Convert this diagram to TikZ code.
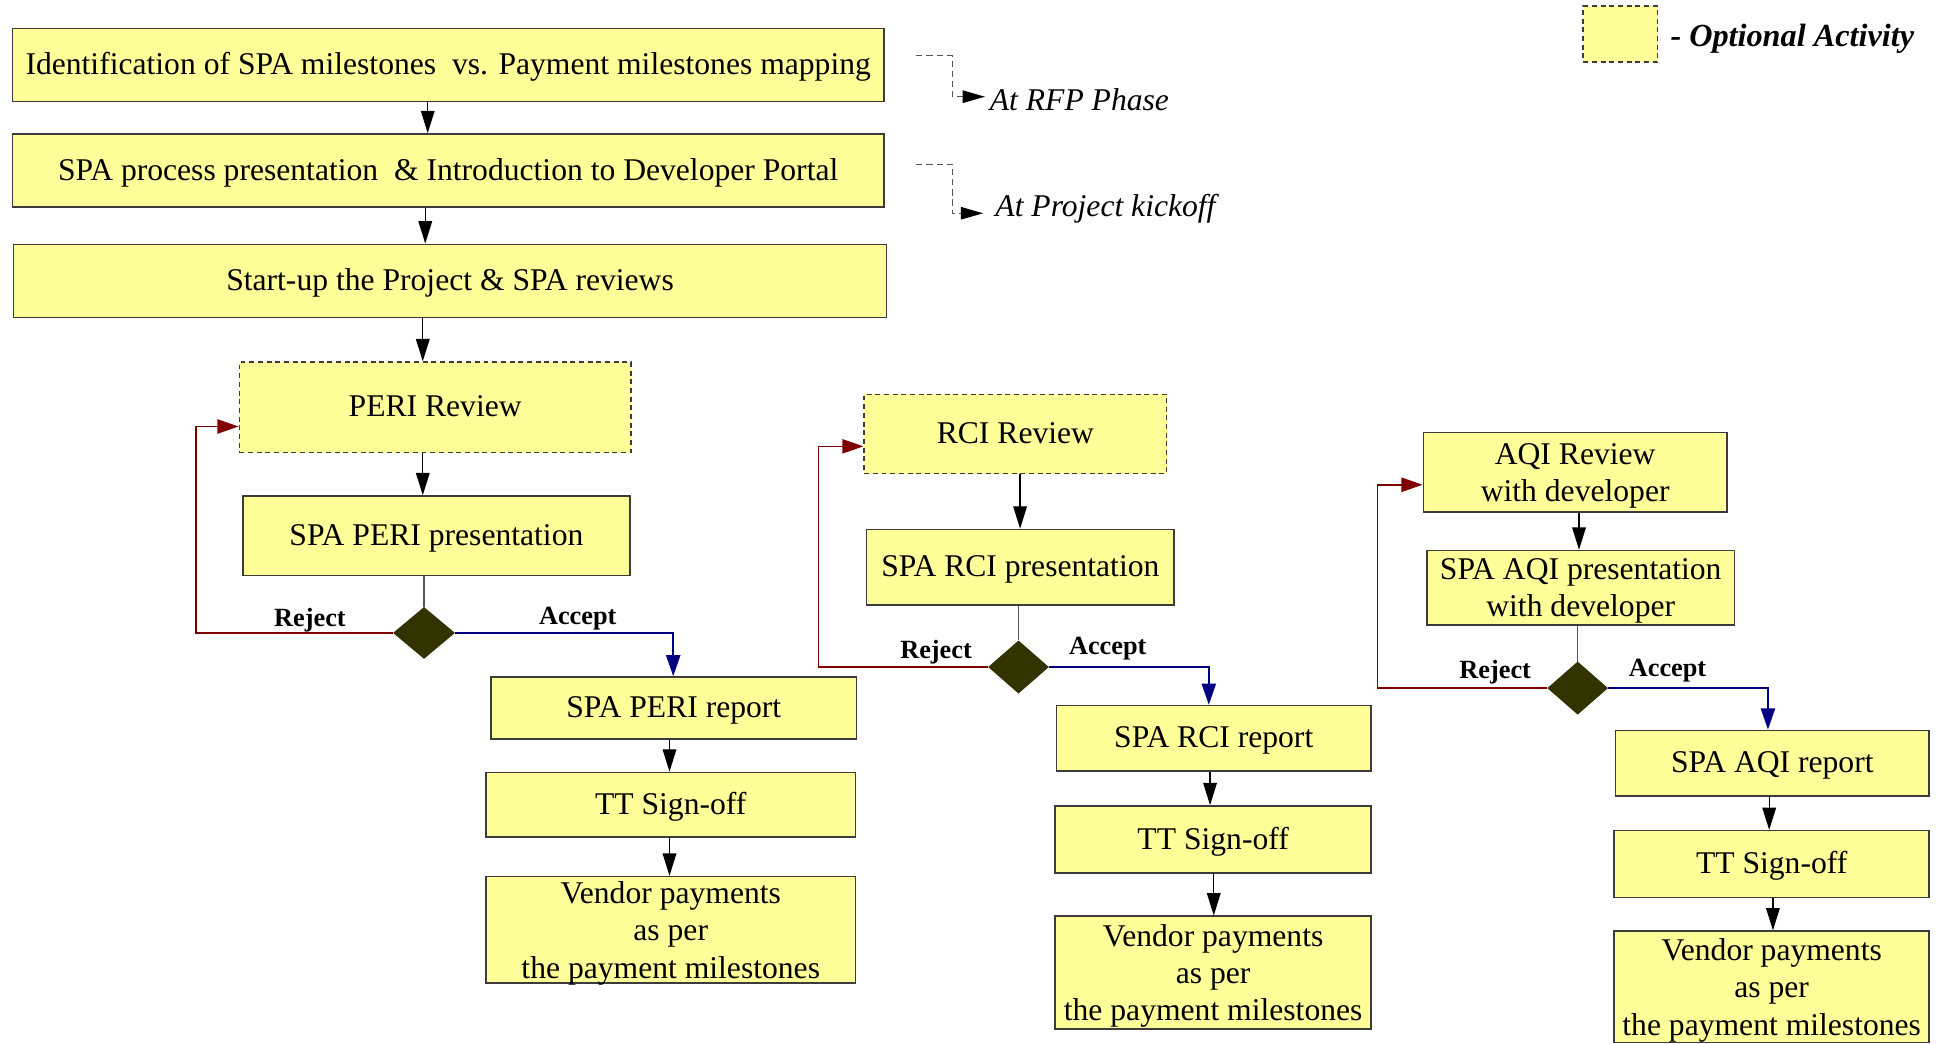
\documentclass[tikz,border=0pt]{standalone}
\usepackage{fontspec}
\setmainfont{Liberation Serif}
\usetikzlibrary{arrows.meta,shapes.geometric}

\definecolor{boxfill}{HTML}{FFFF99}
\definecolor{boxline}{HTML}{3C3C3C}
\definecolor{gatefill}{HTML}{333300}
\definecolor{rejcol}{HTML}{800000}
\definecolor{acccol}{HTML}{000080}
\definecolor{notecol}{HTML}{555555}

\begin{document}
\begin{tikzpicture}[x=0.5pt,y=-0.5pt,
  every node/.style={font=\fontsize{12.75pt}{15pt}\selectfont},
  frame/.style={draw=boxline,line width=0.6pt,fill=boxfill,align=center,inner sep=0pt},
  box/.style={frame,text height=1.0em,text depth=0.22em},
  tallbox/.style={frame,text depth=-0.15em},
  optbox/.style={box,dash pattern=on 2pt off 1.5pt},
  decision/.style={diamond,fill=gatefill,draw=gatefill,inner sep=0pt,
    minimum width=24.5pt,minimum height=20.5pt},
  flow/.style={draw=black,line width=0.5pt,-{Triangle[length=9pt,width=5.5pt]}},
  stem/.style={draw=notecol,line width=0.5pt},
  rejpath/.style={draw=rejcol,line width=0.6pt,-{Triangle[length=8.5pt,width=5.75pt]}},
  accpath/.style={draw=acccol,line width=0.6pt,-{Triangle[length=8.5pt,width=5.75pt]}},
  notepath/.style={draw=notecol,line width=0.5pt,dash pattern=on 2.5pt off 1.6pt,
    -{Triangle[length=9pt,width=5pt,color=black]}},
  verdict/.style={font=\bfseries\fontsize{10.6pt}{12pt}\selectfont,inner sep=0pt},
  notetext/.style={font=\itshape\fontsize{12.75pt}{15pt}\selectfont,anchor=base west},
]
\useasboundingbox (0,0) rectangle (1568,842);

% ---- common start-up chain ----
\node[box,minimum width=351.5pt,minimum height=29.5pt] (b1) at (361.5,52.5)
  {Identification of SPA milestones\ \ vs. Payment milestones mapping};
\node[box,minimum width=351.5pt,minimum height=29.5pt] (b2) at (361.5,137.5)
  {SPA process presentation\ \ \& Introduction to Developer Portal};
\node[box,minimum width=352pt,minimum height=29.5pt] (b3) at (363,226.5)
  {Start-up the Project \& SPA reviews};

% ---- phase notes ----
\coordinate (n1) at (739,45);
\node[notetext,inner sep=1.75pt] (rfp) at (794.5,89) {At RFP Phase};
\draw[notepath] (n1) -| (768,78) -- (rfp.west |- 0,78);
\coordinate (n2) at (739,132.5);
\node[notetext,inner ysep=1.75pt,inner xsep=4.75pt] (kick) at (793,175) {At Project kickoff};
\draw[notepath] (n2) -| (768,172) -- (kick.west |- 0,172);

% ---- legend ----
\node[optbox,minimum width=30pt,minimum height=22.5pt] (legbox) at (1307,27.5) {};
\node[anchor=base west,inner sep=0pt,font=\bfseries\itshape\fontsize{13pt}{15pt}\selectfont]
  (legtext) at (1347,37.6) {- Optional Activity};

% ---- PERI column ----
\node[optbox,minimum width=158pt,minimum height=36.5pt] (peri) at (351,328.5) {PERI Review};
\node[box,minimum width=156pt,minimum height=32pt] (peripres) at (352,432) {SPA PERI presentation};
\node[decision] (d1) at (342,510.5) {};
\node[box,minimum width=147.5pt,minimum height=25pt] (perirep) at (543.5,571) {SPA PERI report};
\node[box,minimum width=149pt,minimum height=26pt] (tt1) at (541,649) {TT Sign-off};
\node[tallbox,minimum width=149pt,minimum height=43pt] (v1) at (541,750)
  {Vendor payments\\as per\\the payment milestones};
\node[verdict] (rj1) at (250,500) {Reject};
\node[verdict] (ac1) at (466,499) {Accept};

% ---- RCI column ----
\node[optbox,minimum width=122pt,minimum height=32pt] (rci) at (819,350) {RCI Review};
\node[box,minimum width=124pt,minimum height=30.5pt] (rcipres) at (823,457.5) {SPA RCI presentation};
\node[decision,minimum width=24pt,minimum height=21pt] (d2) at (821.5,538) {};
\node[box,minimum width=127pt,minimum height=26.5pt] (rcirep) at (979,595.5) {SPA RCI report};
\node[box,minimum width=127.5pt,minimum height=27pt] (tt2) at (978.5,677) {TT Sign-off};
\node[tallbox,minimum width=127.5pt,minimum height=45.5pt] (v2) at (978.5,784.5)
  {Vendor payments\\as per\\the payment milestones};
\node[verdict] (rj2) at (755,526) {Reject};
\node[verdict] (ac2) at (893.5,523) {Accept};

% ---- AQI column ----
\node[tallbox,minimum width=122.5pt,minimum height=32pt] (aqi) at (1270.5,381) {AQI Review\\with developer};
\node[tallbox,minimum width=124pt,minimum height=30pt] (aqipres) at (1275,474)
  {SPA AQI presentation\\with developer};
\node[decision,minimum width=24pt,minimum height=21pt] (d3) at (1272.5,555) {};
\node[box,minimum width=126.5pt,minimum height=26.5pt] (aqirep) at (1429.5,615.5) {SPA AQI report};
\node[box,minimum width=127pt,minimum height=27pt] (tt3) at (1429,697) {TT Sign-off};
\node[tallbox,minimum width=127pt,minimum height=45pt] (v3) at (1429,796)
  {Vendor payments\\as per\\the payment milestones};
\node[verdict] (rj3) at (1206,542) {Reject};
\node[verdict] (ac3) at (1345,541) {Accept};

% ---- connectors: start-up chain ----
\draw[flow] (b1.south -| 345,0) -- (b2.north -| 345,0);
\draw[flow] (b2.south -| 343,0) -- (b3.north -| 343,0);
\draw[flow] (b3.south -| 341,0) -- (peri.north -| 341,0);

% ---- connectors: PERI ----
\draw[flow] (peri.south -| 341,0) -- (peripres.north -| 341,0);
\draw[stem] (peripres.south -| d1) -- (d1.north);
\draw[rejpath] (d1.west) -| (158,344) -- (peri.west |- 0,344);
\draw[accpath] (d1.east) -| (perirep.north -| 543,0);
\draw[flow] (perirep.south -| 540,0) -- (tt1.north -| 540,0);
\draw[flow] (tt1.south -| 540,0) -- (v1.north -| 540,0);

% ---- connectors: RCI ----
\draw[flow] (rci.south -| 822.8,0) -- (rcipres.north -| 822.8,0);
\draw[stem] (rcipres.south -| d2) -- (d2.north);
\draw[rejpath] (d2.west) -| (660,360) -- (rci.west |- 0,360);
\draw[accpath] (d2.east) -| (rcirep.north -| 975,0);
\draw[flow] (rcirep.south -| 976,0) -- (tt2.north -| 976,0);
\draw[flow] (tt2.south -| 979,0) -- (v2.north -| 979,0);

% ---- connectors: AQI ----
\draw[flow] (aqi.south -| 1273.6,0) -- (aqipres.north -| 1273.6,0);
\draw[stem] (aqipres.south -| d3) -- (d3.north);
\draw[rejpath] (d3.west) -| (1111,391) -- (aqi.west |- 0,391);
\draw[accpath] (d3.east) -| (aqirep.north -| 1426,0);
\draw[flow] (aqirep.south -| 1427,0) -- (tt3.north -| 1427,0);
\draw[flow] (tt3.south -| 1430,0) -- (v3.north -| 1430,0);
\end{tikzpicture}
\end{document}
